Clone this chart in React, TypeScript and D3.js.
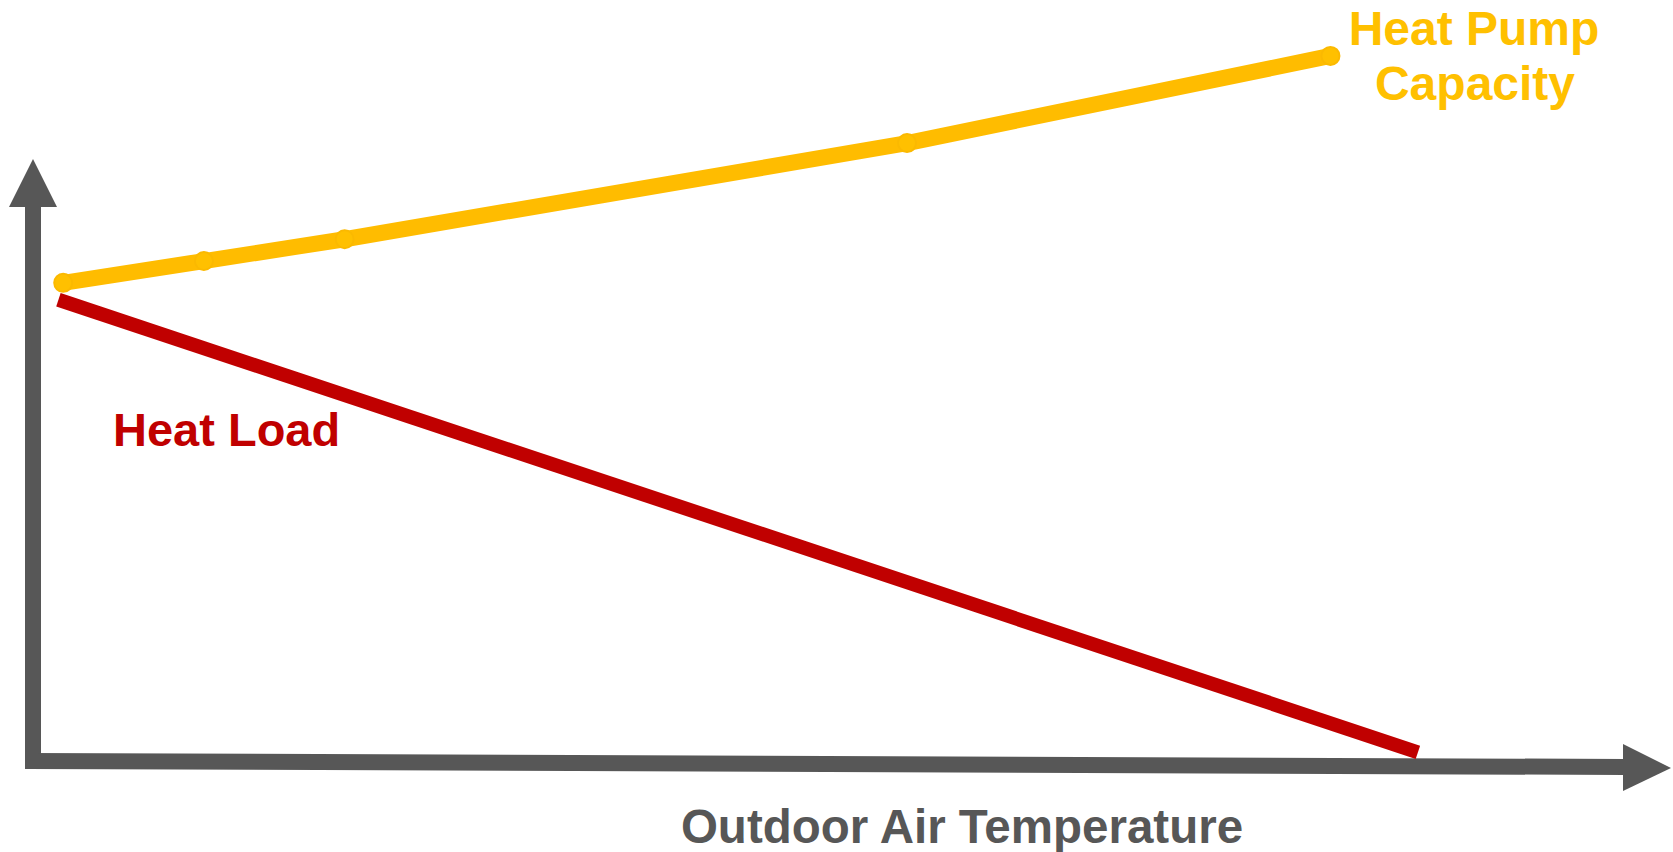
import React from "react";
import * as d3 from "d3";

const W = 1673;
const H = 852;

// Conceptual data (arbitrary units)
const heatLoadX = [1.6, 87.1];
const heatLoadY = [76.9, 2.1];
const capacityX = [1.9, 10.75, 19.6, 54.97, 81.6];
const capacityY = [79.7, 83.3, 86.9, 102.8, 117.2];

const xLabel = "Outdoor Air Temperature";
const loadLabel = "Heat Load";
const capLabel = ["Heat Pump", "Capacity"];

const GRAY = "#575757";
const RED = "#C00000";
const YELLOW = "#FFBC00";

export default function App() {
  const x = d3.scaleLinear().domain([0, 100]).range([33, 1623]);
  const y = d3.scaleLinear().domain([0, 100]).range([765, 160]);

  const loadData = heatLoadX.map((v, i) => [v, heatLoadY[i]] as [number, number]);
  const capData = capacityX.map((v, i) => [v, capacityY[i]] as [number, number]);
  const line = d3
    .line<[number, number]>()
    .x((d) => x(d[0]))
    .y((d) => y(d[1]));

  const font = "'Liberation Sans', Arial, sans-serif";

  return (
    <svg
      width={W}
      height={H}
      style={{ position: "absolute", left: 0, top: 0, background: "#fff" }}
    >
      {/* Y axis */}
      <rect x={25} y={205} width={16} height={564} fill={GRAY} />
      <polygon points="33,159 9,207 57,207" fill={GRAY} />
      {/* X axis (slightly tilted) */}
      <polygon points="27,753 1625,759 1625,775 27,769" fill={GRAY} />
      <polygon points="1623,744 1671,768 1623,791" fill={GRAY} />

      {/* Heat load line */}
      <path
        d={line(loadData) || ""}
        fill="none"
        stroke={RED}
        strokeWidth={14}
        strokeLinecap="butt"
      />

      {/* Heat pump capacity */}
      <path
        d={line(capData) || ""}
        fill="none"
        stroke={YELLOW}
        strokeWidth={16}
        strokeLinecap="round"
        strokeLinejoin="round"
      />
      {capData.map((d, i) => (
        <circle key={i} cx={x(d[0])} cy={y(d[1])} r={9} fill="#FFC000" stroke="#FBB900" strokeWidth={2} />
      ))}

      {/* Labels */}
      <text
        x={1474}
        y={45}
        textAnchor="middle"
        fontFamily={font}
        fontWeight="bold"
        fontSize={48}
        fill="#FFC000"
      >
        {capLabel[0]}
      </text>
      <text
        x={1475}
        y={100}
        textAnchor="middle"
        fontFamily={font}
        fontWeight="bold"
        fontSize={48}
        fill="#FFC000"
      >
        {capLabel[1]}
      </text>
      <text
        x={113}
        y={446}
        fontFamily={font}
        fontWeight="bold"
        fontSize={47}
        fill={RED}
      >
        {loadLabel}
      </text>
      <text
        x={962}
        y={843}
        textAnchor="middle"
        fontFamily={font}
        fontWeight="bold"
        fontSize={47.5}
        fill={GRAY}
      >
        {xLabel}
      </text>
    </svg>
  );
}
